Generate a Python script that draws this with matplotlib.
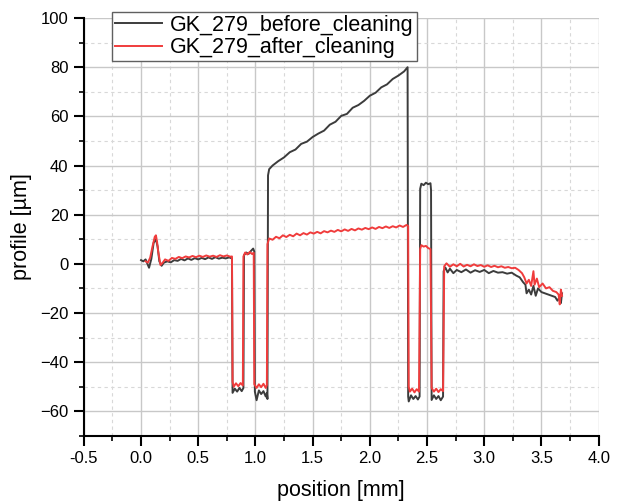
import matplotlib
matplotlib.use("Agg")
import matplotlib.pyplot as plt
from matplotlib.ticker import MultipleLocator, FormatStrFormatter

plt.rcParams['font.family'] = ['Liberation Sans', 'DejaVu Sans']

# profile before cleaning: position [mm], height [um]
x_before = [0.00, 0.02, 0.04, 0.06, 0.07, 0.09, 0.11, 0.13, 0.145, 0.16, 0.18, 0.20,
            0.23, 0.26, 0.29, 0.32, 0.35, 0.38, 0.41, 0.44, 0.47, 0.50, 0.53, 0.56,
            0.59, 0.62, 0.65, 0.68, 0.71, 0.74, 0.77, 0.79, 0.795,
            0.80, 0.82, 0.84, 0.86, 0.88, 0.895,
            0.90, 0.92, 0.94, 0.96, 0.98, 0.99,
            0.995, 1.01, 1.03, 1.05, 1.07, 1.09, 1.10, 1.105,
            1.11, 1.12, 1.15, 1.20, 1.25, 1.30, 1.35, 1.40, 1.45, 1.50, 1.55, 1.60,
            1.65, 1.70, 1.75, 1.80, 1.85, 1.90, 1.95, 2.00, 2.05, 2.10, 2.15, 2.20,
            2.25, 2.30, 2.33,
            2.335, 2.34, 2.36, 2.38, 2.40, 2.42, 2.435,
            2.44, 2.45, 2.47, 2.49, 2.51, 2.53, 2.535,
            2.54, 2.56, 2.58, 2.60, 2.62, 2.64,
            2.645, 2.66, 2.68, 2.70, 2.73, 2.76, 2.80, 2.84, 2.88, 2.92, 2.96, 3.00,
            3.04, 3.08, 3.12, 3.16, 3.20, 3.24, 3.28, 3.31, 3.34, 3.36, 3.37, 3.39,
            3.41, 3.43, 3.45, 3.47, 3.50, 3.53, 3.56, 3.59, 3.62, 3.64, 3.66, 3.67, 3.68]
y_before = [1.5, 1.0, 1.8, -0.5, -1.6, 2.0, 8.5, 10.0, 7.0, 1.0, -0.8, 0.5,
            1.0, 0.6, 1.5, 1.2, 2.0, 1.4, 2.2, 1.6, 2.3, 1.8, 2.4, 1.9,
            2.6, 2.0, 2.7, 2.1, 2.5, 2.2, 2.6, 2.3, 2.0,
            -52.5, -50.8, -52.0, -50.5, -51.8, -50.5,
            3.5, 4.6, 4.0, 5.2, 6.2, 5.0,
            -52.0, -55.5, -51.5, -53.0, -51.8, -54.0, -52.5, -55.0,
            36.0, 38.5, 40.0, 41.8, 43.3, 45.4, 46.5, 48.8, 49.7, 51.6, 53.0, 54.2,
            56.6, 57.8, 60.2, 61.0, 63.5, 64.6, 66.3, 68.4, 69.6, 71.8, 73.0, 75.2,
            76.6, 78.3, 80.0,
            -54.0, -56.0, -53.5, -55.0, -53.8, -55.2, -54.0,
            30.5, 32.6, 32.0, 33.0, 32.4, 32.8, 30.0,
            -55.4, -53.5, -55.0, -53.8, -55.5, -54.0,
            -3.0, -1.5, -3.5, -2.0, -3.8, -2.5, -3.4, -2.3, -3.6, -2.6, -3.3, -2.5,
            -3.8, -2.9, -3.6, -3.4, -4.0, -3.6, -4.8, -5.5, -7.5, -8.5, -12.0, -10.5,
            -12.5, -9.0, -13.0, -10.0, -11.5, -12.0, -12.5, -13.0, -13.5, -15.0, -13.5, -16.0, -12.0]

# profile after cleaning
x_after = [0.04, 0.06, 0.08, 0.10, 0.12, 0.13, 0.14, 0.15, 0.17, 0.19, 0.21, 0.24,
           0.27, 0.30, 0.33, 0.36, 0.39, 0.42, 0.45, 0.48, 0.51, 0.54, 0.57, 0.60,
           0.63, 0.66, 0.69, 0.72, 0.75, 0.78, 0.795,
           0.80, 0.81, 0.83, 0.85, 0.87, 0.89,
           0.895, 0.91, 0.93, 0.95, 0.97, 0.985,
           0.99, 1.01, 1.03, 1.05, 1.07, 1.09, 1.10,
           1.105, 1.12, 1.15, 1.18, 1.21, 1.24, 1.27, 1.30, 1.33, 1.36, 1.39, 1.42,
           1.45, 1.48, 1.51, 1.54, 1.57, 1.60, 1.63, 1.66, 1.69, 1.72, 1.75, 1.78,
           1.81, 1.84, 1.87, 1.90, 1.93, 1.96, 1.99, 2.02, 2.05, 2.08, 2.11, 2.14,
           2.17, 2.20, 2.23, 2.26, 2.29, 2.32, 2.335,
           2.34, 2.35, 2.37, 2.39, 2.41, 2.43,
           2.44, 2.45, 2.47, 2.49, 2.51, 2.53,
           2.54, 2.56, 2.58, 2.60, 2.62, 2.64,
           2.65, 2.67, 2.70, 2.73, 2.76, 2.79, 2.82, 2.85, 2.88, 2.91, 2.94, 2.97,
           3.00, 3.03, 3.06, 3.09, 3.12, 3.15, 3.18, 3.21, 3.24, 3.27, 3.30, 3.33,
           3.35, 3.37, 3.39, 3.41, 3.43, 3.44, 3.46, 3.48, 3.51, 3.54, 3.57, 3.60,
           3.63, 3.65, 3.66, 3.67, 3.68]
y_after = [1.0, 0.5, 2.5, 7.0, 11.0, 11.6, 9.0, 5.0, -0.5, 0.5, 1.8, 1.2,
           2.4, 2.0, 2.8, 2.3, 3.0, 2.6, 3.2, 2.7, 3.3, 2.8, 3.4, 2.9,
           3.3, 2.8, 3.5, 3.0, 3.4, 2.9, 3.0,
           -48.0, -50.0, -48.6, -49.8, -48.5, -49.5,
           3.0, 4.6, 3.8, 4.8, 4.0, 4.5,
           -49.0, -50.5, -49.0, -50.2, -48.8, -50.5, -49.3,
           8.0, 10.3, 9.8, 11.0, 10.4, 11.6, 10.9, 11.8, 11.2, 12.3, 11.6, 12.5,
           11.9, 12.8, 12.3, 13.0, 12.4, 13.3, 12.8, 13.5, 13.0, 13.8, 13.2, 14.0,
           13.4, 14.2, 13.6, 14.4, 13.9, 14.6, 14.1, 14.8, 14.2, 15.0, 14.5, 15.2,
           14.6, 15.3, 14.8, 15.6, 15.0, 15.8, 15.4,
           -50.0, -52.0, -50.8, -52.3, -51.0, -52.0,
           6.0, 7.6, 7.0, 7.3, 6.4, 6.0,
           -50.5, -52.0, -50.8, -52.2, -51.0, -51.8,
           -1.0, 0.2, -1.2, -0.2, -1.0, 0.0, -1.1, -0.4, -1.0, -0.2, -0.9, -0.5,
           -1.2, -0.6, -1.3, -0.8, -1.4, -1.0, -1.6, -1.3, -1.8, -1.6, -2.5, -3.8,
           -5.5, -8.0, -6.5, -9.0, -3.0, -8.5, -6.0, -9.5, -8.0, -10.0, -9.5, -11.0,
           -11.5, -12.5, -16.5, -10.5, -13.0]

fig = plt.figure(figsize=(6.21, 5.01), dpi=100)
ax = fig.add_axes([0.135, 0.130, 0.829, 0.834])

ax.plot(x_before, y_before, color='#3c3c3c', lw=1.4, label='GK_279_before_cleaning')
ax.plot(x_after, y_after, color='#f03c3c', lw=1.4, label='GK_279_after_cleaning')

ax.set_xlim(-0.5, 4.0)
ax.set_ylim(-70, 100)
ax.xaxis.set_major_locator(MultipleLocator(0.5))
ax.xaxis.set_minor_locator(MultipleLocator(0.25))
ax.yaxis.set_minor_locator(MultipleLocator(10))
ax.set_yticks([-60, -40, -20, 0, 20, 40, 60, 80, 100])
ax.xaxis.set_major_formatter(FormatStrFormatter('%.1f'))

ax.grid(which='major', color='#c8c8c8', lw=1.0, ls='-')
ax.grid(which='minor', color='#d8d8d8', lw=0.8, ls=(0, (3, 3)))
ax.set_axisbelow(True)

for s in ['top', 'right']:
    ax.spines[s].set_visible(False)
for s in ['left', 'bottom']:
    ax.spines[s].set_linewidth(1.5)

ax.tick_params(which='major', direction='out', length=7, width=1.5, labelsize=12, pad=4)
ax.tick_params(which='minor', direction='out', length=3.5, width=1.2)

ax.set_xlabel('position [mm]', fontsize=15.5, labelpad=10)
ax.set_ylabel('profile [µm]', fontsize=15.5, labelpad=6)

leg = ax.legend(loc='upper left', bbox_to_anchor=(0.054, 1.015), fontsize=15.5,
                frameon=True, fancybox=False, borderpad=0.15, handlelength=2.2,
                labelspacing=0.05, handletextpad=0.35, borderaxespad=0)
leg.get_frame().set_edgecolor('#606060')
leg.get_frame().set_linewidth(1.0)
leg.get_frame().set_alpha(1.0)

fig.savefig('out.png', dpi=100)
